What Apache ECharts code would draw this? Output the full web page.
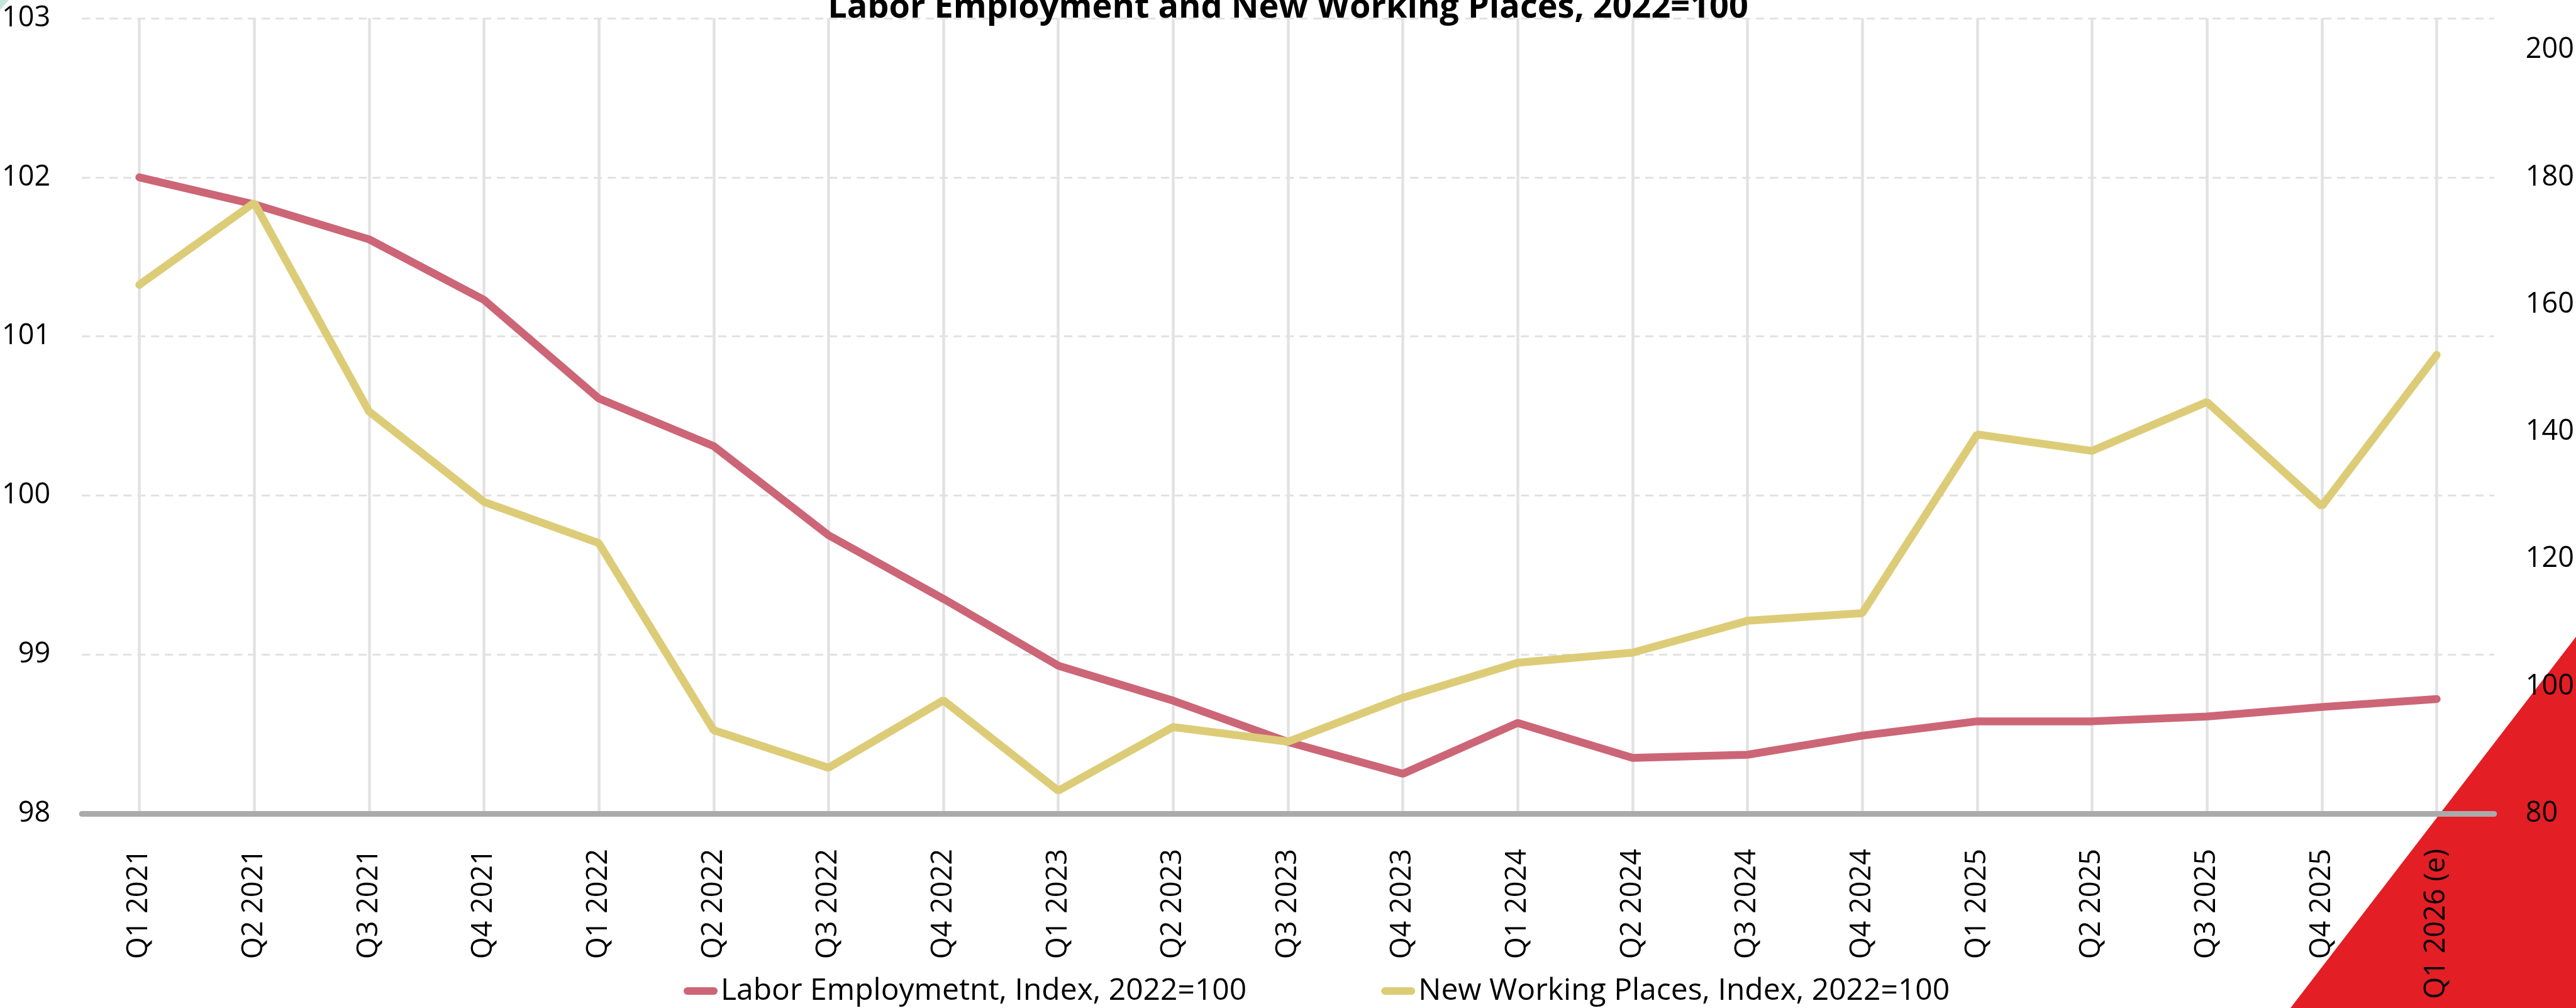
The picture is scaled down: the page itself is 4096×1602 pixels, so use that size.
<!DOCTYPE html>
<html>
<head>
<meta charset="utf-8">
<title>Labor Employment and New Working Places</title>
<script src="https://cdn.jsdelivr.net/npm/echarts@6/dist/echarts.min.js"></script>
<style>
  html, body { margin: 0; padding: 0; background: #fff; }
  #chart { width: 4096px; height: 1602px; }
</style>
</head>
<body>
<div id="chart"></div>
<script>
var quarters = [
  'Q1 2021', 'Q2 2021', 'Q3 2021', 'Q4 2021',
  'Q1 2022', 'Q2 2022', 'Q3 2022', 'Q4 2022',
  'Q1 2023', 'Q2 2023', 'Q3 2023', 'Q4 2023',
  'Q1 2024', 'Q2 2024', 'Q3 2024', 'Q4 2024',
  'Q1 2025', 'Q2 2025', 'Q3 2025', 'Q4 2025',
  'Q1 2026 (e)'
]
// left axis
var laborEmployment = [
  102.0, 101.83, 101.61, 101.23,
  100.61, 100.31, 99.75, 99.35,
  98.93, 98.71, 98.45, 98.25,
  98.57, 98.35, 98.37, 98.49,
  98.58, 98.58, 98.61, 98.67,
  98.72
]
// right axis
var newWorkingPlaces = [
  163.1, 176.0, 143.2, 129.0,
  122.5, 93.1, 87.2, 97.8,
  83.6, 93.6, 91.3, 98.2,
  103.7, 105.3, 110.3, 111.5,
  139.6, 137.0, 144.7, 128.3,
  152.1
]
var seriesNames = ['Labor Employmetnt, Index, 2022=100', 'New Working Places, Index, 2022=100']
var seriesColors = ['#cc6677', '#ddcc77']

var chart = echarts.init(document.getElementById('chart'))

var option = {
  backgroundColor: '#fff',
  animation: false,
  textStyle: { fontFamily: 'Open Sans', color: '#000' },
  color: seriesColors,
  title: {
    text: 'Labor Employment and New Working Places, 2022=100',
    left: 'center',
    top: -19,
    textStyle: { fontFamily: 'Open Sans', fontWeight: 'bold', fontSize: 54, color: '#000' }
  },
  legend: {
    data: seriesNames,
    left: 1082,
    top: 1546,
    itemWidth: 54,
    itemHeight: 12,
    itemGap: 214,
    icon: 'path://M6,0 H48 A6,6 0 0 1 48,12 H6 A6,6 0 0 1 6,0 Z',
    textStyle: { fontFamily: 'Open Sans', fontSize: 48, color: '#000' }
  },
  grid: {
    left: 127,
    right: 127,
    top: 29,
    bottom: 309,
    containLabel: false
  },
  xAxis: {
    type: 'category',
    data: quarters,
    boundaryGap: true,
    axisLine: { show: true, lineStyle: { color: '#aaaaaa', width: 9 } },
    axisTick: { show: false },
    splitLine: {
      show: true,
      alignWithLabel: true,
      lineStyle: { color: '#e2e2e2', width: 4.5 }
    },
    axisLabel: {
      rotate: 90,
      margin: 56,
      interval: 0,
      fontSize: 45,
      color: '#000',
      fontFamily: 'Open Sans'
    }
  },
  yAxis: [
    {
      type: 'value',
      min: 98,
      max: 103,
      interval: 1,
      axisLine: { show: false },
      axisTick: { show: false },
      splitLine: {
        show: true,
        lineStyle: { color: '#e2e2e2', width: 3.2, type: [13, 9] }
      },
      axisLabel: { margin: 50, fontSize: 45, color: '#000', fontFamily: 'Open Sans' }
    },
    {
      type: 'value',
      position: 'right',
      min: 80,
      max: 205,
      interval: 20,
      axisLine: { show: false },
      axisTick: { show: false },
      splitLine: { show: false },
      axisLabel: {
        margin: 50,
        fontSize: 45,
        color: '#000',
        fontFamily: 'Open Sans',
        showMaxLabel: false
      }
    }
  ],
  series: [
    {
      name: seriesNames[0],
      type: 'line',
      yAxisIndex: 0,
      data: laborEmployment,
      symbol: 'none',
      lineStyle: { width: 12.5, color: seriesColors[0], cap: 'round' },
      z: 3
    },
    {
      name: seriesNames[1],
      type: 'line',
      yAxisIndex: 1,
      data: newWorkingPlaces,
      symbol: 'none',
      lineStyle: { width: 12.5, color: seriesColors[1], cap: 'round' },
      z: 4
    }
  ],
  graphic: [
    {
      type: 'polygon',
      z: -10,
      silent: true,
      shape: { points: [[4096, 1012], [4096, 1602], [3642, 1602]] },
      style: { fill: '#e31e25' }
    },
    {
      type: 'polygon',
      z: -10,
      silent: true,
      shape: { points: [[0, 0], [14, 0], [0, 16]] },
      style: { fill: '#c6e4dc' }
    }
  ]
}

chart.setOption(option)
</script>
</body>
</html>
